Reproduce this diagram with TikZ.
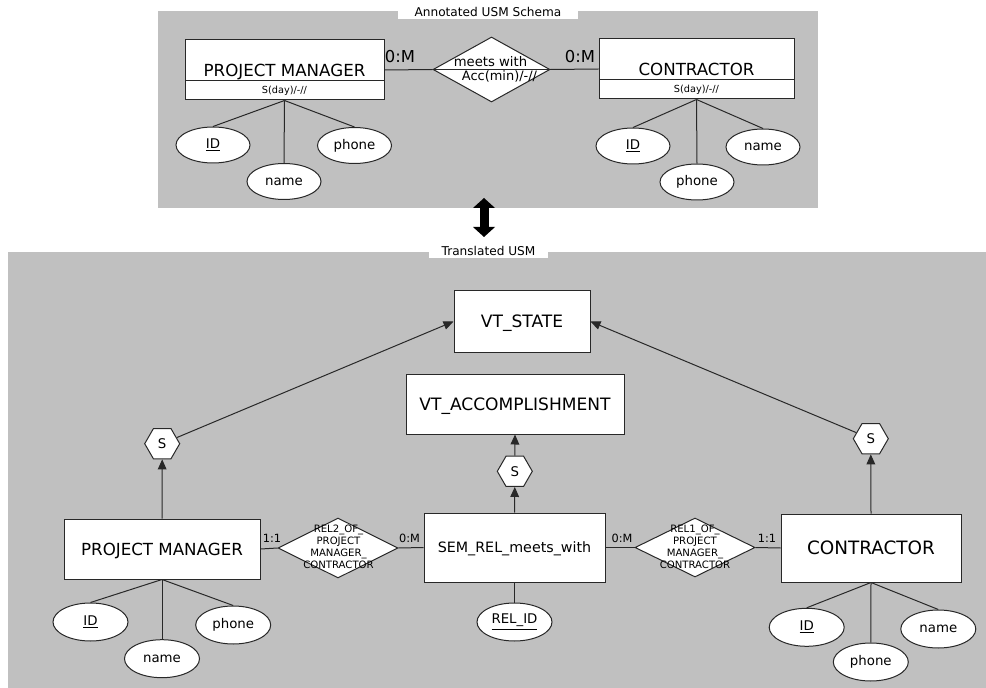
\documentclass[tikz,border=0pt]{standalone}
\usepackage{fontspec}
\setmainfont{DejaVu Sans}
\usetikzlibrary{shapes.geometric,arrows.meta}
\definecolor{panelgray}{RGB}{192,192,192}
\definecolor{strokec}{RGB}{40,40,40}
\newcommand\sz[1]{\fontsize{#1}{#1}\selectfont}
\begin{document}
\begin{tikzpicture}[x=0.75pt,y=-0.75pt,
  stroke/.style={draw=strokec,line width=0.75pt},
  panel/.style={fill=panelgray,draw=none,inner sep=0pt,anchor=north west},
  ttl/.style={fill=white,inner xsep=0pt,inner ysep=#1,text height=6.6pt,text depth=0pt,font=\sz{9.1}},
  ent/.style={stroke,fill=white,inner sep=0pt,text depth=0pt},
  rel/.style={stroke,fill=white,diamond,inner sep=0pt},
  attr/.style={stroke,fill=white,ellipse,inner sep=0pt,font=\sz{10}},
  attrA/.style={attr,minimum width=55.5pt,minimum height=27pt},
  attrB/.style={attr,minimum width=56.25pt,minimum height=28.5pt},
  hexa/.style={stroke,fill=white,regular polygon,regular polygon sides=6,minimum size=26.25pt,inner sep=0pt,font=\sz{10}},
  card/.style={anchor=base,inner sep=0pt,font=\sz{8.5}},
  lnk/.style={stroke},
  isa/.style={stroke,-{Triangle[length=7.5pt,width=6.5pt]}},
  relt/.style={align=center,inner sep=0pt,font=\fontsize{7.6}{9}\selectfont},
  bigarrow/.style={draw=black,line width=6.75pt,
    {Triangle[length=7.5pt,width=16.5pt,line width=0pt]}-{Triangle[length=7.5pt,width=16.5pt,line width=0pt]}},
]
\fill[white] (0,0) rectangle (986,688);
\useasboundingbox (0,0) rectangle (986,688);

% ---------- panels ----------
\node[panel,minimum width=495pt,minimum height=147.75pt] (annot) at (158,11) {};
\node[panel,minimum width=733.5pt,minimum height=327pt] (transl) at (8,252) {};
\node[ttl=1.7pt,minimum width=135pt] (annotTitle) at (488,12.3) {Annotated USM Schema};
\node[ttl=1.9pt,minimum width=89.25pt] (translTitle) at (488.5,251) {Translated USM};

% ---------- double arrow between the two schemas ----------
\coordinate (dTop) at (484,198);
\coordinate (dBot) at (484,237);
\draw[bigarrow] (dTop) -- (dBot);

% ---------- annotated schema ----------
\node[ent,minimum width=149.25pt,minimum height=45pt,text height=9.1pt,font=\sz{12.5}] (pmA) at (284.5,70) {PROJECT MANAGER};
\draw[lnk] (185,81) -- (384,81);
\node[font=\sz{7.3},inner sep=0pt] (pmAtime) at (284.5,90.5) {S(day)/-//};

\node[ent,minimum width=146.25pt,minimum height=45pt,text height=9.1pt,font=\sz{12.5}] (cA) at (696.5,69) {CONTRACTOR};
\draw[lnk] (599,80) -- (794,80);
\node[font=\sz{7.3},inner sep=0pt] (cAtime) at (696.5,89.5) {S(day)/-//};

\node[rel,minimum width=87.75pt,minimum height=48.75pt] (mwA) at (491.5,69.5) {};
\draw[lnk] (mwA.west) -- (mwA.east);
\node[anchor=base,inner sep=0pt,font=\sz{9.9}] (mwAname) at (490.5,66.5) {meets with};
\node[anchor=base,inner sep=0pt,font=\sz{9.7}] (mwAtime) at (499.5,81) {Acc(min)/-//};

\node[card,font=\sz{12.3}] (cardA1) at (400,63) {0:M};
\node[card,font=\sz{12.3}] (cardA2) at (580,63) {0:M};
\draw[lnk] (pmA.east) -- (mwA.west);
\draw[lnk] (mwA.east) -- (cA.west);

\node[attrA] (idA1) at (213,145) {\underline{ID}};
\node[attrA] (nameA1) at (284,181.5) {name};
\node[attrA] (phoneA1) at (354.5,145.5) {phone};
\draw[lnk] (pmA.south) -- (idA1.north);
\draw[lnk] (pmA.south) -- (nameA1.north);
\draw[lnk] (pmA.south) -- (phoneA1.north);

\node[attrA] (idA2) at (633,146) {\underline{ID}};
\node[attrA] (phoneA2) at (697,182) {phone};
\node[attrA] (nameA2) at (763,147) {name};
\draw[lnk] (cA.south) -- (idA2.north);
\draw[lnk] (cA.south) -- (phoneA2.north);
\draw[lnk] (cA.south) -- (nameA2.north);

% ---------- translated schema ----------
\node[ent,minimum width=102pt,minimum height=45.75pt,text height=9.3pt,font=\sz{12.8}] (vts) at (522,321.5) {VT\_STATE};
\node[ent,minimum width=163.5pt,minimum height=45pt,text height=9.3pt,font=\sz{12.8}] (vta) at (515,404) {VT\_ACCOMPLISHMENT};

\node[hexa] (sL) at (162.2,443.7) {S};
\node[hexa] (sC) at (514.8,471.3) {S};
\node[hexa] (sR) at (870.8,438.7) {S};

\node[ent,minimum width=147pt,minimum height=45pt,text height=9.1pt,font=\sz{12.5}] (pmB) at (162,549) {PROJECT MANAGER};
\node[ent,minimum width=135.75pt,minimum height=51.75pt,text height=7.8pt,font=\sz{10.7}] (sem) at (514.5,547.5) {SEM\_REL\_meets\_with};
\node[ent,minimum width=135pt,minimum height=51pt,text height=10.1pt,font=\sz{13.8}] (cB) at (871,548) {CONTRACTOR};

\node[rel,minimum width=90pt,minimum height=45pt] (rel2) at (338,548) {};
\node[rel,minimum width=90pt,minimum height=44.25pt] (rel1) at (695,547.5) {};

\draw[lnk] (pmB.east) -- (rel2.west);
\draw[lnk] (rel2.east) -- (sem.west);
\draw[lnk] (sem.east) -- (rel1.west);
\draw[lnk] (rel1.east) -- (cB.west);

\node[relt] (rel2t) at (338.5,547) {REL2\_OF\_\\PROJECT\\MANAGER\_\\CONTRACTOR};
\node[relt] (rel1t) at (695,547) {REL1\_OF\_\\PROJECT\\MANAGER\_\\CONTRACTOR};

\node[card] (cardB1) at (272,542) {1:1};
\node[card] (cardB2) at (409.5,542) {0:M};
\node[card] (cardB3) at (622,542) {0:M};
\node[card] (cardB4) at (767,542) {1:1};

\draw[isa] (pmB.north) -- (sL.south);
\draw[isa] (sL) -- (vts.west);
\draw[isa] (cB.north) -- (sR.south);
\draw[isa] (sR) -- (vts.east);
\draw[isa] (sem.north) -- (sC.south);
\draw[isa] (sC.north) -- (vta.south);

\node[attrB] (idB) at (90.5,622) {\underline{ID}};
\node[attrB] (nameB) at (162,658.7) {name};
\node[attrB] (phoneB) at (233.2,625) {phone};
\draw[lnk] (pmB.south) -- (idB.north);
\draw[lnk] (pmB.south) -- (nameB.north);
\draw[lnk] (pmB.south) -- (phoneB.north);

\node[attrB] (relid) at (514.5,622) {\underline{REL\_ID}};
\draw[lnk] (sem.south) -- (relid.north);

\node[attrB] (idC) at (806.7,627.3) {\underline{ID}};
\node[attrB] (phoneC) at (870.8,662) {phone};
\node[attrB] (nameC) at (938.3,629) {name};
\draw[lnk] (cB.south) -- (idC.north);
\draw[lnk] (cB.south) -- (phoneC.north);
\draw[lnk] (cB.south) -- (nameC.north);
\end{tikzpicture}
\end{document}
